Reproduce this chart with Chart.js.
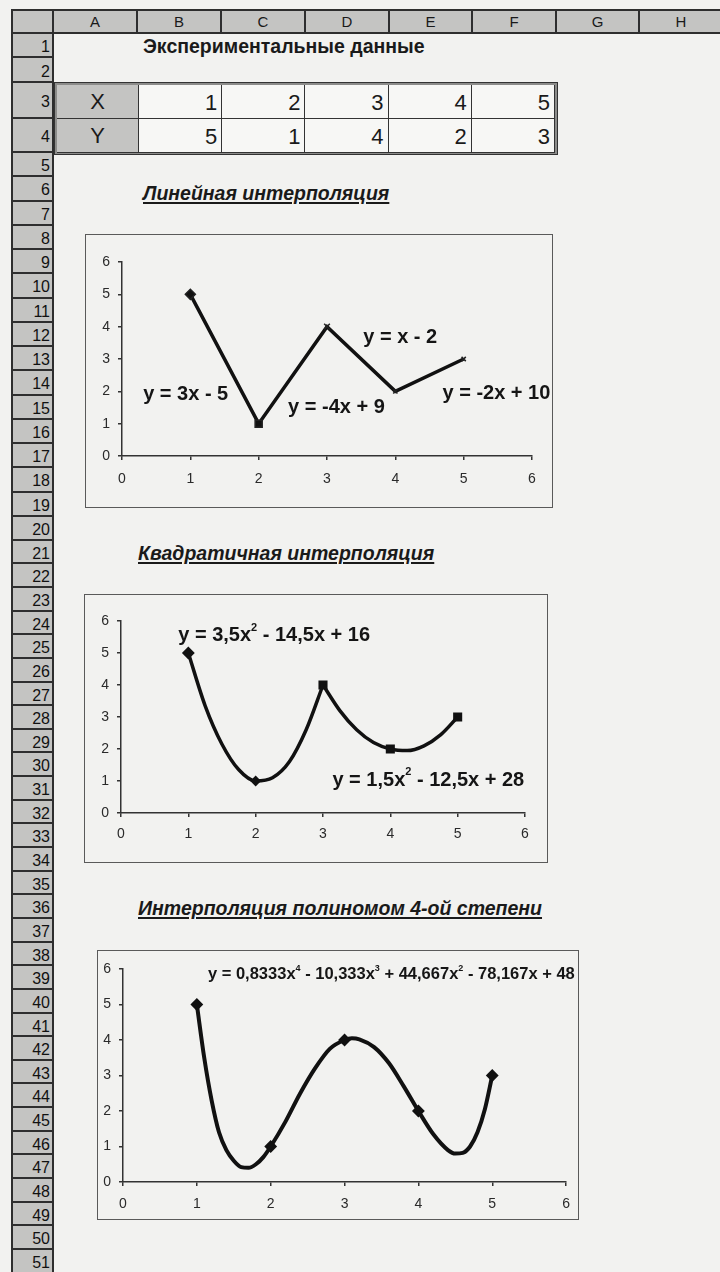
<!DOCTYPE html>
<html>
<head>
<meta charset="utf-8">
<script src="https://cdn.jsdelivr.net/npm/chart.js@4.4.0/dist/chart.umd.min.js"></script>
<style>
  body { margin: 0; background: #f2f2f0; font-family: "Liberation Sans", Arial, sans-serif; color: #1a1a1a; }
  #page { position: relative; width: 720px; height: 1272px; overflow: hidden; }
  .abs { position: absolute; box-sizing: border-box; }
  .gray { background: #c4c4c2; }
  .hcell { border-right: 2px solid #2e2e2e; text-align: center; font-size: 15px; line-height: 22px; }
  .rcell { border-bottom: 2px solid #2e2e2e; text-align: right; padding-right: 2px; font-size: 16px; color: #111; }
  .title { font-size: 19.5px; font-weight: bold; white-space: nowrap; line-height: 20px; }
  .sect { font-style: italic; text-decoration: underline; text-decoration-thickness: 2px; text-underline-offset: 2px; }
  .box { border: 1.5px solid #5a5a5a; }
  .tcell { border-right: 1.5px solid #333; border-bottom: 1.5px solid #333; font-size: 22px; text-align: right; padding-right: 4px; }
</style>
</head>
<body>
<div id="page">
  <div class="abs title" style="left:143px;top:36px;">Экспериментальные данные</div>
  <div class="abs title sect" style="left:143px;top:183px;">Линейная интерполяция</div>
  <div class="abs title sect" style="left:138px;top:543px;">Квадратичная интерполяция</div>
  <div class="abs title sect" style="left:138px;top:898px;">Интерполяция полиномом 4-ой степени</div>

  <div class="abs box" style="left:85px;top:234px;width:468px;height:274px;"></div>
  <canvas id="linChart" class="abs" style="left:85px;top:234px;" width="468" height="274"></canvas>

  <div class="abs box" style="left:84px;top:594px;width:464px;height:269px;"></div>
  <canvas id="quadChart" class="abs" style="left:85px;top:595px;" width="463" height="268"></canvas>

  <div class="abs box" style="left:97px;top:950px;width:482px;height:270px;"></div>
  <canvas id="polyChart" class="abs" style="left:97px;top:950px;" width="483" height="270"></canvas>
</div>
<script>
// experimental data (rows 3 and 4 of the sheet)
var xValues = [1, 2, 3, 4, 5];
var yValues = [5, 1, 4, 2, 3];
var axisTicks = [0, 1, 2, 3, 4, 5, 6];

// quadratic pieces
var quadX1 = [1, 1.25, 1.5, 1.75, 2, 2.25, 2.5, 2.75, 3];
var quadY1 = [5, 3.35, 2.15, 1.35, 1.0, 1.1, 1.6, 2.6, 4];
var quadX2 = [3, 3.25, 3.5, 3.75, 4, 4.25, 4.5, 4.75, 5];
var quadY2 = [4, 3.2, 2.6, 2.2, 2.0, 1.95, 2.1, 2.45, 3];

// 4th degree curve
var polyX = [1, 1.1, 1.2, 1.3, 1.4, 1.5, 1.6, 1.7, 1.8, 1.9, 2, 2.2, 2.4, 2.6, 2.8, 3, 3.1, 3.2, 3.4, 3.6, 3.8, 4, 4.2, 4.4, 4.5, 4.6, 4.7, 4.8, 4.9, 5];
var polyY = [5, 3.5, 2.3, 1.4, 0.9, 0.6, 0.42, 0.4, 0.5, 0.7, 1.0, 1.7, 2.5, 3.2, 3.75, 4.0, 4.05, 4.02, 3.8, 3.35, 2.7, 2.0, 1.35, 0.9, 0.8, 0.82, 1.0, 1.4, 2.05, 3.0];

var linEquations = ['y = 3x - 5', 'y = -4x + 9', 'y = x - 2', 'y = -2x + 10'];
var quadEquations = ['y = 3,5x^2 - 14,5x + 16', 'y = 1,5x^2 - 12,5x + 28'];
var polyEquations = ['y = 0,8333x^4 - 10,333x^3 + 44,667x^2 - 78,167x + 48'];

var columns = ['A', 'B', 'C', 'D', 'E', 'F', 'G', 'H'];
var rowCount = 51;

var family = '"Liberation Sans", Arial, sans-serif';
var page = document.getElementById('page');

function addDiv(cls, css, text) {
  var d = document.createElement('div');
  d.className = 'abs ' + cls;
  d.style.cssText = css;
  if (text !== undefined) d.textContent = text;
  page.appendChild(d);
  return d;
}

// ---- sheet header row and row numbers ----
var colEdges = [11, 54, 138, 222, 306, 390, 473, 557, 640, 724];
addDiv('gray', 'left:11px;top:9px;width:713px;height:25px;border-top:2px solid #2e2e2e;border-bottom:2px solid #2e2e2e;border-left:2px solid #2e2e2e;');
for (var c = 0; c < colEdges.length - 1; c++) {
  addDiv('hcell', 'left:' + colEdges[c] + 'px;top:11px;width:' + (colEdges[c + 1] - colEdges[c]) + 'px;height:21px;',
    c === 0 ? '' : columns[c - 1]);
}

// row tops: rows 1-4 measured, then 5..20 and 20..51 evenly spaced (scan is slightly uneven)
var rowTops = [34, 58, 83, 119];
for (var r = 5; r <= rowCount; r++) {
  rowTops[r - 1] = r <= 20 ? 153 + (r - 5) * (517 - 153) / 15 : 517 + (r - 20) * (1250 - 517) / 31;
}
rowTops[rowCount] = 1274;
for (var r = 1; r <= rowCount; r++) {
  var rowY = rowTops[r - 1], rowH = rowTops[r] - rowY;
  addDiv('gray rcell', 'left:11px;top:' + rowY + 'px;width:43px;height:' + rowH + 'px;line-height:' + (rowH + 2) + 'px;border-left:2px solid #2e2e2e;border-right:2px solid #2e2e2e;', String(r));
}

// ---- data table ----
var tbl = addDiv('', 'left:54px;top:82px;width:504px;height:73px;border:1px solid #333;background:#8c8c8a;padding:2px;');
[['X', xValues], ['Y', yValues]].forEach(function (row, i) {
  var y0 = i * 34;
  var a = document.createElement('div');
  a.className = 'abs tcell gray';
  a.style.cssText = 'left:2px;top:' + (2 + y0) + 'px;width:82px;height:34px;line-height:34px;text-align:center;padding:0;';
  a.textContent = row[0];
  tbl.appendChild(a);
  row[1].forEach(function (v, j) {
    var d = document.createElement('div');
    d.className = 'abs tcell';
    d.style.cssText = 'left:' + (84 + j * 83.2) + 'px;top:' + (2 + y0) + 'px;width:83.2px;height:34px;line-height:36px;background:#f7f7f5;';
    d.textContent = v;
    tbl.appendChild(d);
  });
});

// ---- equation labels drawn at data coordinates ----
var textLabels = {
  id: 'textLabels',
  afterDatasetsDraw: function (chart, args, opts) {
    var ctx = chart.ctx, xs = chart.scales.x, ys = chart.scales.y;
    ctx.save();
    ctx.fillStyle = '#151515';
    ctx.textBaseline = 'middle';
    ctx.textAlign = 'left';
    (opts.items || []).forEach(function (item) {
      var px = xs.getPixelForValue(item.x);
      var py = ys.getPixelForValue(item.y);
      item.text.split(/(\^\d)/).forEach(function (part) {
        if (!part) return;
        var sup = part[0] === '^';
        var s = sup ? part.slice(1) : part;
        ctx.font = 'bold ' + (sup ? Math.round(opts.size * 0.55) : opts.size) + 'px ' + family;
        ctx.fillText(s, px, sup ? py - opts.size * 0.38 : py);
        px += ctx.measureText(s).width;
      });
    });
    ctx.restore();
  }
};

function axis(which, size, pad) {
  return {
    type: 'linear', min: 0, max: 6,
    afterBuildTicks: function (s) { s.ticks = axisTicks.map(function (v) { return { value: v }; }); },
    ticks: { color: '#2a2a2a', font: { family: family, size: 14 }, padding: pad },
    grid: { drawOnChartArea: false, drawTicks: true, tickLength: 4, color: '#333', lineWidth: 1.5 },
    border: { color: '#333', width: 1.5 },
    afterFit: function (s) { if (which === 'x') s.height = size; else s.width = size; }
  };
}

function points(xs, ys) {
  return xs.map(function (x, i) { return { x: x, y: ys[i] }; });
}

function makeChart(id, datasets, box, labels, labelSize) {
  return new Chart(document.getElementById(id), {
    type: 'scatter',
    data: { datasets: datasets },
    options: {
      responsive: false,
      animation: false,
      events: [],
      layout: { padding: { top: box.top, right: box.right, left: 0, bottom: 0 } },
      scales: { x: axis('x', box.bottom, box.xPad), y: axis('y', box.left, box.yPad) },
      plugins: {
        legend: { display: false },
        tooltip: { enabled: false },
        textLabels: { items: labels, size: labelSize }
      }
    },
    plugins: [textLabels]
  });
}

var lineStyle = { showLine: true, borderColor: '#111', borderWidth: 3.5, pointRadius: 0, cubicInterpolationMode: 'monotone' };
function curve(xs, ys) {
  return Object.assign({ data: points(xs, ys) }, lineStyle);
}
function markers(styles, radii) {
  return { data: points(xValues, yValues), showLine: false, pointStyle: styles, pointRadius: radii,
    pointBackgroundColor: '#111', pointBorderColor: '#111', pointBorderWidth: 2 };
}

// Linear interpolation
var lin = Object.assign({ data: points(xValues, yValues) }, lineStyle, {
  tension: 0, cubicInterpolationMode: 'default',
  pointStyle: ['rectRot', 'rect', 'crossRot', 'crossRot', 'crossRot'],
  pointRadius: [5, 5, 4, 3, 3],
  pointBackgroundColor: '#111', pointBorderColor: '#222', pointBorderWidth: 1.5
});
makeChart('linChart', [lin],
  { top: 28, right: 21, left: 37, bottom: 52, xPad: 11, yPad: 8 },
  [
    { x: 0.31, y: 1.89, text: linEquations[0] },
    { x: 2.43, y: 1.49, text: linEquations[1] },
    { x: 3.53, y: 3.65, text: linEquations[2] },
    { x: 4.69, y: 1.92, text: linEquations[3] }
  ], 20);

// Quadratic interpolation
makeChart('quadChart', [
  curve(quadX1, quadY1),
  curve(quadX2, quadY2),
  markers(['rectRot', 'rectRot', 'rect', 'rect', 'rect'], [5, 4, 5, 5, 5])
], { top: 26, right: 23, left: 36, bottom: 50, xPad: 9, yPad: 8 },
  [
    { x: 0.85, y: 5.56, text: quadEquations[0] },
    { x: 3.14, y: 1.03, text: quadEquations[1] }
  ], 20);

// 4th degree polynomial
makeChart('polyChart', [
  Object.assign(curve(polyX, polyY), { borderWidth: 4 }),
  markers(['rectRot', 'rectRot', 'rectRot', 'rectRot', 'rectRot'], [5, 5, 5, 5, 5])
], { top: 19, right: 11, left: 26, bottom: 38, xPad: 10, yPad: 8 },
  [
    { x: 1.15, y: 5.85, text: polyEquations[0] }
  ], 16.5);
</script>
</body>
</html>
